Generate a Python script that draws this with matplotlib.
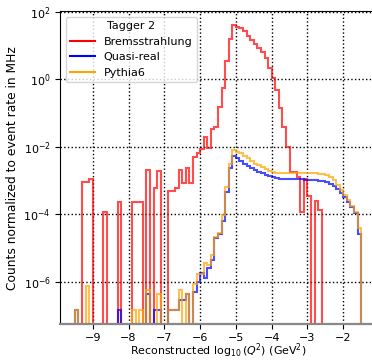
import numpy as np
import matplotlib
matplotlib.use("Agg")
import matplotlib.pyplot as plt
from matplotlib.lines import Line2D
from matplotlib.ticker import NullLocator

# histogram binning (log10 Q^2)
edges = np.round(np.arange(-9.5, -1.45, 0.1), 2)

# Bremsstrahlung: lower bin edge -> rate in MHz
brems_lo = [-9.3, -9.2, -9.1, -8.7, -8.3, -7.9, -7.8, -7.7, -7.5, -7.3, -7.2,
            -6.9, -6.8, -6.7, -6.6, -6.5, -6.4, -6.3, -6.2, -6.1, -6.0,
            -5.9, -5.8, -5.7, -5.6, -5.5, -5.4, -5.3, -5.2, -5.1, -5.0,
            -4.9, -4.8, -4.7, -4.6, -4.5, -4.4, -4.3, -4.2, -4.1, -4.0,
            -3.9, -3.8, -3.7, -3.6, -3.5, -3.4, -3.3, -3.2, -3.1, -3.0,
            -2.8, -2.7]
brems_rate = [9.3e-4, 9.3e-4, 1.1e-3, 1.2e-4, 2.4e-4, 2.4e-4, 2.4e-4, 2.4e-4, 2.1e-3, 5.9e-4, 1.9e-3,
              4.8e-4, 4.8e-4, 5.9e-4, 2.1e-3, 8.5e-4, 2.4e-3, 8.5e-4, 4.9e-3, 6.8e-3, 8.9e-3,
              0.020, 9.5e-3, 0.033, 0.038, 0.15, 0.54, 3.5, 16, 41, 36,
              32, 26, 19, 14.5, 11, 8.3, 6.2, 4.2, 2.1, 1.07,
              0.48, 0.138, 0.040, 0.0102, 1.8e-3, 1.8e-3, 1.3e-3, 1.2e-4, 1.1e-3, 3.5e-4,
              2.5e-4, 1.35e-4]

# Quasi-real
qr_lo = [-9.5, -8.3, -7.5, -7.3, -7.2, -6.9, -6.8, -6.7, -6.6, -6.5, -6.4,
         -6.2, -6.1, -6.0, -5.9, -5.8, -5.7, -5.6, -5.5, -5.4, -5.3, -5.2, -5.1,
         -5.0, -4.9, -4.8, -4.7, -4.6, -4.5, -4.4, -4.3, -4.2, -4.1, -4.0,
         -3.9, -3.8, -3.7, -3.6, -3.5, -3.4, -3.3, -3.2, -3.1, -3.0,
         -2.9, -2.8, -2.7, -2.6, -2.5, -2.4, -2.3, -2.2, -2.1, -2.0,
         -1.9, -1.8, -1.7, -1.6]
qr_rate = [1.5e-7, 1.5e-7, 4.5e-7, 1.5e-7, 1.5e-7, 1.5e-7, 1.5e-7, 1.5e-7, 3.0e-7, 3.0e-7, 4.5e-7,
           5.0e-7, 1.0e-6, 1.9e-6, 1.3e-6, 2.6e-6, 4.5e-6, 2.0e-5, 2.6e-5, 6.6e-5, 4.7e-4, 2.3e-3, 5.5e-3,
           4.6e-3, 3.9e-3, 3.2e-3, 2.75e-3, 2.4e-3, 2.1e-3, 1.86e-3, 1.66e-3, 1.48e-3, 1.35e-3, 1.26e-3,
           1.2e-3, 1.15e-3, 1.12e-3, 1.12e-3, 1.1e-3, 1.1e-3, 1.1e-3, 1.1e-3, 1.07e-3, 1.07e-3,
           1.05e-3, 1.02e-3, 1.0e-3, 9.5e-4, 8.9e-4, 7.9e-4, 6.9e-4, 5.5e-4, 4.3e-4, 3.3e-4,
           2.4e-4, 1.7e-4, 1.1e-4, 2.6e-5]

# Pythia6
py_lo = [-9.5, -9.2, -7.9, -7.7, -7.5, -7.2, -6.9, -6.8, -6.7, -6.6, -6.4,
         -6.2, -6.1, -6.0, -5.9, -5.8, -5.7, -5.6, -5.5, -5.4, -5.3, -5.2, -5.1,
         -5.0, -4.9, -4.8, -4.7, -4.6, -4.5, -4.4, -4.3, -4.2, -4.1, -4.0,
         -3.9, -3.8, -3.7, -3.6, -3.5, -3.4, -3.3, -3.2, -3.1, -3.0,
         -2.9, -2.8, -2.7, -2.6, -2.5, -2.4, -2.3, -2.2, -2.1, -2.0,
         -1.9, -1.8, -1.7, -1.6]
py_rate = [1.5e-7, 7.5e-7, 1.5e-7, 1.5e-7, 6.0e-7, 4.5e-7, 1.5e-7, 1.5e-7, 1.5e-7, 6.0e-7, 4.5e-7,
           9.0e-7, 1.7e-6, 1.7e-6, 3.6e-6, 3.2e-6, 6.3e-6, 2.2e-5, 2.8e-5, 9.8e-5, 6.6e-4, 3.2e-3, 8.1e-3,
           7.2e-3, 6.5e-3, 5.4e-3, 4.6e-3, 3.9e-3, 3.2e-3, 2.9e-3, 2.5e-3, 2.2e-3, 1.95e-3, 1.8e-3,
           1.74e-3, 1.7e-3, 1.7e-3, 1.7e-3, 1.7e-3, 1.7e-3, 1.7e-3, 1.7e-3, 1.7e-3, 1.7e-3,
           1.66e-3, 1.65e-3, 1.62e-3, 1.58e-3, 1.48e-3, 1.26e-3, 1.02e-3, 7.6e-4, 5.4e-4, 3.8e-4,
           2.6e-4, 1.8e-4, 1.2e-4, 3.9e-5]

series = [("Bremsstrahlung", brems_lo, brems_rate, "red"),
          ("Quasi-real", qr_lo, qr_rate, "blue"),
          ("Pythia6", py_lo, py_rate, "orange")]

fig = plt.figure(figsize=(3.72, 3.61), dpi=100)
ax = fig.add_axes([0.1626, 0.1017, 0.8468, 0.8678])

handles = []
for name, lo, rate, col in series:
    centers = np.array(lo) + 0.05
    ax.hist(centers, bins=edges, weights=rate, histtype="step",
            color=col, alpha=0.7, linewidth=1.5)
    handles.append(Line2D([], [], color=col, linewidth=1.5, label=name))

ax.set_yscale("log")
ax.set_xlim(-9.9, -1.1)
ax.set_ylim(10**-7.25, 10**2.02)
ax.set_yticks([1e2, 1e0, 1e-2, 1e-4, 1e-6])
ax.yaxis.set_minor_locator(NullLocator())
ax.set_xticks([-9, -8, -7, -6, -5, -4, -3, -2])
ax.grid(True, linestyle=":", color="black", linewidth=1)
ax.tick_params(labelsize=8)
ax.tick_params(axis="x", pad=2.8)
ax.spines["bottom"].set_color("#888888")
ax.spines["bottom"].set_linewidth(1.6)

ax.set_xlabel(r"Reconstructed $\log_{10}(Q^2)$ (GeV$^2$)", fontsize=7.9)
ax.xaxis.set_label_coords(0.5, -0.056)
ax.set_ylabel("Counts normalized to event rate in MHz", fontsize=8.8, labelpad=3)
ax.legend(handles=handles, title="Tagger 2", loc="upper left",
          fontsize=8, title_fontsize=8, handlelength=2.2)

fig.savefig("out.png", dpi=100)
